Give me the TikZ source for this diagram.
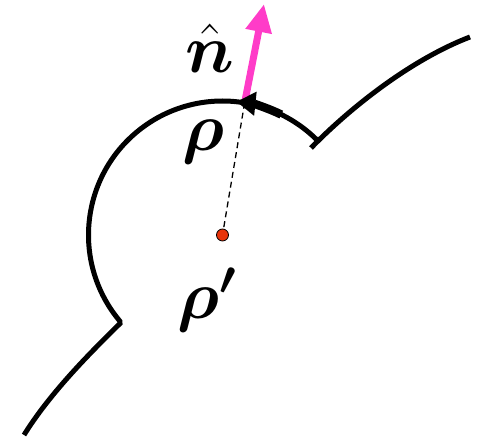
\documentclass[tikz,border=0pt]{standalone}
\usepackage{amsmath,bm}
\usetikzlibrary{arrows.meta}
\definecolor{magentaarrow}{HTML}{FF3CC8}
\definecolor{dotred}{HTML}{E8340A}
\newcommand{\biglbl}[1]{\scalebox{2.75}{\fontsize{25}{25}\selectfont$#1$}}
\tikzset{
  curveline/.style={line width=5pt, line cap=butt, line join=miter},
  lbl/.style={inner sep=0pt},
}
\begin{document}
\begin{tikzpicture}[x=1pt,y=1pt]
\useasboundingbox (0,0) rectangle (479,438);
\coordinate (C) at (222.5,203);
% main boundary
\draw[curveline] (24,3) .. controls (50,45) and (90,85) .. (120,114.5)
  -- ([shift={(220:134)}]C) arc[start angle=220,end angle=45,radius=134];
\draw[curveline] (311,290) .. controls (355,335) and (415,380) .. (470,401);
% point on arc
\coordinate (P) at ([shift={(80.5:134)}]C);
% dot
\node[circle, draw=black, line width=0.8pt, fill=dotred, minimum size=12pt, inner sep=0pt] (dot) at (C) {};
% dashed
\draw[line width=1.3pt, dash pattern=on 6pt off 4pt] (P) -- (dot);
% normal arrow
\coordinate (T) at (264,434);
\draw[magentaarrow, line width=7pt, -{Triangle[length=28pt,width=25pt]}] (P) -- (T);
% thick arrow on arc
\draw[line width=8.5pt, -{Triangle[length=19pt,width=23pt]}]
  ([shift={(64:134)}]C) arc[start angle=64,end angle=84,radius=134];
% labels
\node[lbl] (n) at (210,390) {\biglbl{\hat{\bm n}}};
\node[lbl] (rho) at (203,296) {\biglbl{\bm\rho}};
\node[lbl] (rhop) at (207,138) {\biglbl{\bm{\rho'}}};
\end{tikzpicture}
\end{document}
